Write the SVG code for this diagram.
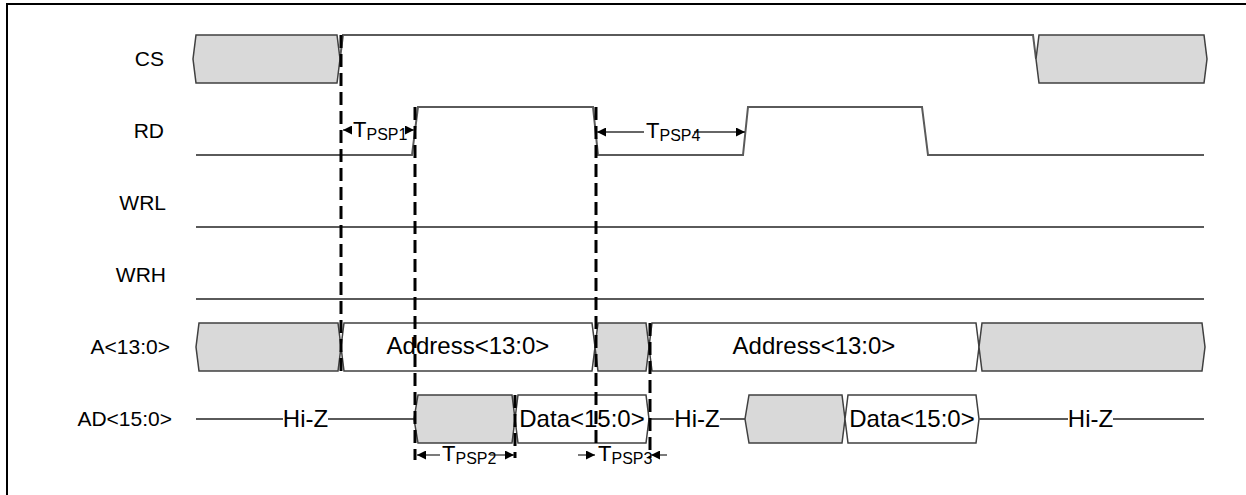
<svg xmlns="http://www.w3.org/2000/svg" width="1246" height="495" viewBox="0 0 1246 495">
<defs>
<style>
.sig{fill:none;stroke:#5a5a5a;stroke-width:2}
.bus{stroke:#404040;stroke-width:1.5}
.g{fill:#d9d9d9}
.w{fill:#fff}
.dash{fill:none;stroke:#000;stroke-width:3;stroke-dasharray:13 6}
.arr{stroke:#333;stroke-width:1.3;marker-end:url(#ah)}
text{font-family:"Liberation Sans",Arial,sans-serif;fill:#000}
.lbl{font-size:21px;text-anchor:end}
.txt{font-size:24px;text-anchor:middle}
.t{font-size:22px}
.sub{font-size:16px}
</style>
<marker id="ah" markerUnits="userSpaceOnUse" markerWidth="9" markerHeight="9" refX="9" refY="4.5" orient="auto">
<path d="M0,0 L9,4.5 L0,9 z" fill="#000"/>
</marker>
</defs>
<rect x="7" y="4" width="1260" height="520" fill="#fff" stroke="#000" stroke-width="2"/>

<g id="labels">
<text class="lbl" x="164" y="66">CS</text>
<text class="lbl" x="164" y="138">RD</text>
<text class="lbl" x="166" y="210">WRL</text>
<text class="lbl" x="166" y="282">WRH</text>
<text class="lbl" x="170" y="354">A&lt;13:0&gt;</text>
<text class="lbl" x="172" y="426">AD&lt;15:0&gt;</text>
</g>

<g id="cs">
<polygon class="bus g" points="196,35 337,35 340,59 337,83 196,83 193,59"/>
<path class="sig" d="M340,59 L343,35 L1033,35 L1036,59"/>
<polygon class="bus g" points="1039,35 1204,35 1207,59 1204,83 1039,83 1036,59"/>
</g>

<g id="rd">
<path class="sig" d="M196,155 L412,155 L418,107 L593,107 L598,155 L743,155 L748,107 L922,107 L928,155 L1204,155"/>
</g>

<g id="wrl"><line class="sig" x1="196" y1="227" x2="1204" y2="227"/></g>
<g id="wrh"><line class="sig" x1="196" y1="299" x2="1204" y2="299"/></g>

<g id="addr">
<polygon class="bus g" points="199,323 338,323 341,347 338,371 199,371 196,347"/>
<polygon class="bus w" points="344,323 592,323 595,347 592,371 344,371 341,347"/>
<polygon class="bus g" points="598,323 646,323 649,347 646,371 598,371 595,347"/>
<polygon class="bus w" points="652,323 976,323 979,347 976,371 652,371 649,347"/>
<polygon class="bus g" points="982,323 1202,323 1205,347 1202,371 982,371 979,347"/>
<text class="txt" x="468" y="354">Address&lt;13:0&gt;</text>
<text class="txt" x="814" y="354">Address&lt;13:0&gt;</text>
</g>

<g id="ad">
<line class="sig" x1="196" y1="419" x2="283" y2="419"/>
<line class="sig" x1="328" y1="419" x2="414" y2="419"/>
<text class="txt" x="305.5" y="427">Hi-Z</text>
<polygon class="bus g" points="418,395 512,395 515,419 512,443 418,443 414,419"/>
<polygon class="bus w" points="518,395 646,395 649,419 646,443 518,443 515,419"/>
<text class="txt" x="582" y="427">Data&lt;15:0&gt;</text>
<line class="sig" x1="649" y1="419" x2="674" y2="419"/>
<line class="sig" x1="720" y1="419" x2="745" y2="419"/>
<text class="txt" x="697" y="427">Hi-Z</text>
<polygon class="bus g" points="749,395 842,395 845,419 842,443 749,443 745,419"/>
<polygon class="bus w" points="848,395 976,395 979,419 976,443 848,443 845,419"/>
<text class="txt" x="912" y="427">Data&lt;15:0&gt;</text>
<line class="sig" x1="979" y1="419" x2="1068" y2="419"/>
<line class="sig" x1="1113" y1="419" x2="1204" y2="419"/>
<text class="txt" x="1090.5" y="427">Hi-Z</text>
</g>

<g id="connectors">
<line class="dash" x1="341" y1="35" x2="341" y2="372"/>
<line class="dash" x1="415" y1="107" x2="415" y2="460"/>
<line class="dash" x1="596" y1="107" x2="596" y2="447"/>
<line class="dash" x1="650" y1="323" x2="650" y2="458"/>
<line class="dash" x1="515" y1="395" x2="515" y2="458"/>

<line class="arr" x1="351" y1="130" x2="343" y2="130"/>
<line class="arr" x1="407" y1="130" x2="414" y2="130"/>
<line class="arr" x1="644" y1="132" x2="597" y2="132"/>
<line class="arr" x1="694" y1="132" x2="745" y2="132"/>
<line class="arr" x1="440" y1="455" x2="417" y2="455"/>
<line class="arr" x1="490" y1="455" x2="514" y2="455"/>
<line class="arr" x1="578" y1="455" x2="595" y2="455"/>
<line class="arr" x1="667" y1="455" x2="651" y2="455"/>
</g>

<g id="timing-labels">
<text class="t" x="353" y="137">T<tspan class="sub" dy="3">PSP1</tspan></text>
<text class="t" x="646" y="138">T<tspan class="sub" dy="3">PSP4</tspan></text>
<text class="t" x="442" y="461">T<tspan class="sub" dy="3">PSP2</tspan></text>
<text class="t" x="598" y="461">T<tspan class="sub" dy="3">PSP3</tspan></text>
</g>
</svg>
